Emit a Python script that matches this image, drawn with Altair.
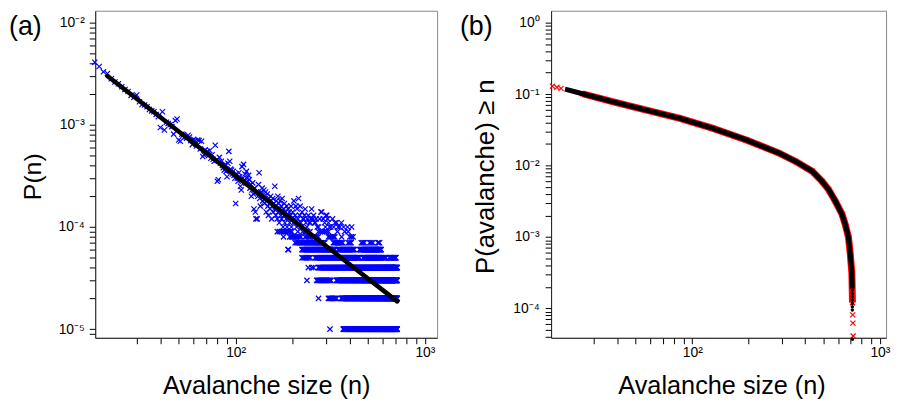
import altair as alt
import pandas as pd

FONT = "Liberation Sans"
XPATH = "M-1,-1L1,1M-1,1L1,-1"
SAMPLES = 100000

# ---------------- panel (a): P(n), counts per 100000 avalanches ----------------
pmf_first_n = 18  # counts below are for n = 18, 19, ..., 200
pmf_counts = [
    410, 372, 330, 318, 282, 262, 252, 236, 222, 212,
    194, 186, 196, 168, 158, 156, 150, 141, 137, 134,
    126, 120, 94, 134, 89, 106, 103, 100, 96, 81,
    110, 114, 71, 69, 81, 80, 76, 74, 79, 76,
    70, 64, 72, 70, 62, 71, 70, 58, 69, 49,
    51, 57, 52, 55, 50, 56, 47, 51, 46, 44,
    63, 45, 28, 29, 48, 42, 44, 40, 38, 36,
    41, 35, 31, 42, 55, 44, 37, 36, 33, 35,
    32, 30, 17, 33, 30, 28, 34, 31, 25, 23,
    39, 30, 41, 29, 33, 27, 35, 30, 28, 32,
    29, 24, 26, 20, 23, 27, 21, 15, 24, 14,
    12, 22, 12, 20, 26, 34, 19, 16, 22, 21,
    24, 18, 20, 23, 17, 19, 22, 14, 18, 21,
    16, 13, 19, 17, 15, 20, 18, 12, 16, 19,
    14, 17, 15, 25, 16, 13, 18, 15, 12, 20,
    14, 17, 11, 15, 18, 13, 16, 12, 19, 14,
    10, 15, 13, 17, 11, 9, 14, 12, 16, 10,
    13, 15, 6, 12, 14, 11, 9, 13, 16, 10,
    12, 8, 14,
]
# isolated sizes above 200 with counts of 10 or more
high_n = [202, 203, 205, 206, 208, 210, 211, 213, 215, 216, 218, 219, 221, 223, 224,
          227, 229, 231, 233, 235, 238, 240, 242, 245, 248, 250, 252, 256, 258, 261,
          264, 266, 270, 274, 278, 282, 285, 290, 295, 298, 300, 303, 306, 309, 313,
          318, 325, 330, 335, 341, 348, 355, 362, 372, 390, 410]
high_counts = [11, 18, 12, 13, 16, 10, 15, 12, 19, 11, 13, 16, 11, 10, 14,
               12, 12, 13, 15, 11, 10, 12, 13, 11, 11, 12, 15, 12, 13, 11,
               11, 12, 10, 10, 12, 14, 14, 12, 11, 10, 13, 13, 12, 11, 10,
               10, 12, 10, 11, 11, 10, 10, 11, 10, 10, 10]
# quantised bands at large n: (count, first n, last n, spacing of marked sizes)
bands = [
    (9, 166, 198, 4), (9, 213, 213, 1), (9, 226, 248, 7), (9, 274, 309, 7),
    (9, 345, 345, 1), (9, 377, 377, 1), (9, 393, 393, 1),
    (8, 179, 179, 1), (8, 193, 221, 4), (8, 233, 248, 5), (8, 258, 274, 5),
    (8, 309, 335, 5), (8, 363, 363, 1), (8, 401, 417, 8),
    (7, 206, 297, 3), (7, 328, 370, 4), (7, 393, 409, 5), (7, 461, 480, 6),
    (7, 510, 531, 7), (7, 564, 576, 6),
    (6, 189, 189, 1), (6, 224, 335, 2), (6, 348, 425, 3), (6, 452, 587, 3),
    (5, 224, 248, 3), (5, 263, 452, 2), (5, 471, 576, 2), (5, 587, 624, 3),
    (5, 649, 704, 3),
    (4, 242, 242, 1), (4, 252, 258, 6), (4, 274, 714, 2),
    (3, 238, 238, 1), (3, 268, 321, 3), (3, 341, 714, 2),
    (2, 274, 274, 1), (2, 309, 341, 4), (2, 362, 714, 2),
    (1, 315, 315, 1), (1, 370, 714, 2),
]
# power-law fit (straight on log-log axes), its two end points
fit_n = [21, 714]
fit_p = [3.0e-3, 1.87e-5]

# ---------------- panel (b): P(avalanche >= n) ----------------
ccdf_n = [18, 19, 20, 26, 38, 57, 86, 129, 194, 290, 356, 436, 492, 533, 578,
          628, 653, 680, 695, 709, 714]
ccdf_p = [0.129, 0.1244, 0.1202, 0.101, 0.0776, 0.0595, 0.0456, 0.0331, 0.0228,
          0.0149, 0.0114, 0.0083, 0.0060, 0.0046, 0.00318, 0.00208, 0.00151,
          0.00099, 0.00058, 0.000306, 0.000120]
ccdf_tail_n = [716, 718, 720]
ccdf_tail_p = [8.1e-5, 6.2e-5, 4.1e-5]
model_n = [21, 26, 38, 57, 86, 129, 194, 290, 356, 436, 492, 533, 578, 628, 653,
           680, 695, 709, 712]
model_p = [0.117, 0.101, 0.0776, 0.0595, 0.0456, 0.0331, 0.0228, 0.0149, 0.0114,
           0.0083, 0.0060, 0.0046, 0.00318, 0.00208, 0.00151, 0.00099, 0.00058,
           0.000306, 0.00019]
model_dot_n = [713, 713, 713, 713, 713, 713, 713, 714]
model_dot_p = [1.8e-4, 1.61e-4, 1.45e-4, 1.30e-4, 1.17e-4, 1.05e-4, 9.5e-5, 3.7e-5]

# ---------------- axes ----------------
x_domain_a = [18.1, 1160]
x_domain_b = [17.7, 1078]
y_domain_a = [8.23e-6, 0.01307]
y_domain_b = [3.87e-5, 1.467]
x_tick_values = [30, 40, 50, 60, 70, 80, 90, 100, 200, 300, 400, 500, 600, 700, 800, 900, 1000]
x_decades = [2, 3]
y_decades_a = [-5, -4, -3, -2]
y_decades_b = [-4, -3, -2, -1, 0]

W_A, W_B, H = 345, 338, 330

SUP = {"0": "⁰", "1": "¹", "2": "²", "3": "³", "4": "⁴", "5": "⁵",
       "6": "⁶", "7": "⁷", "8": "⁸", "9": "⁹", "-": "⁻"}


def decade_expr(decades):
    parts = []
    for e in decades:
        v = 10.0 ** e
        txt = "10" + "".join(SUP[c] for c in str(e))
        parts.append(f"(datum.value > {v * 0.999!r} && datum.value < {v * 1.001!r}) ? '{txt}' : ")
    return "".join(parts) + "''"


def minor_ticks(lo, hi):
    out = []
    for e in range(-7, 2):
        for k in range(1, 10):
            v = k * 10.0 ** e
            if lo <= v <= hi:
                out.append(v)
    return out


common = dict(tickSize=6, tickColor="black", tickWidth=1, domainColor="#222",
              labelFont=FONT, labelFontSize=14, labelColor="black",
              labelOverlap=False, labelFlush=False, grid=False,
              titleFont=FONT, titleFontWeight="normal", titleColor="black")

x_axis_a = alt.Axis(values=x_tick_values, labelExpr=decade_expr(x_decades),
                    title="Avalanche size (n)", labelPadding=2, titleFontSize=25.5,
                    titleX=172.5, titleY=56, titleBaseline="alphabetic", titleAlign="center",
                    **common)
x_axis_b = alt.Axis(values=x_tick_values, labelExpr=decade_expr(x_decades),
                    title="Avalanche size (n)", labelPadding=2, titleFontSize=25.5,
                    titleX=172, titleY=56, titleBaseline="alphabetic", titleAlign="center",
                    **common)
y_axis_a = alt.Axis(values=minor_ticks(*y_domain_a), labelExpr=decade_expr(y_decades_a),
                    title="P(n)", labelPadding=5, titleFontSize=25, titleAngle=270,
                    titleX=-55, titleY=167, titleBaseline="alphabetic", titleAlign="center",
                    **common)
y_axis_b = alt.Axis(values=minor_ticks(*y_domain_b), labelExpr=decade_expr(y_decades_b),
                    title="P(avalanche) ≥ n", labelPadding=6, titleFontSize=26, titleAngle=270,
                    titleX=-58, titleY=167, titleBaseline="alphabetic", titleAlign="center",
                    **common)

xsa = alt.Scale(type="log", domain=x_domain_a, nice=False)
xsb = alt.Scale(type="log", domain=x_domain_b, nice=False)
ysa = alt.Scale(type="log", domain=y_domain_a, nice=False)
ysb = alt.Scale(type="log", domain=y_domain_b, nice=False)

# ---------------- data frames ----------------
rows_a = [{"n": pmf_first_n + i, "p": c / SAMPLES} for i, c in enumerate(pmf_counts)]
rows_a += [{"n": n, "p": c / SAMPLES} for n, c in zip(high_n, high_counts)]
for level, first, last, step in bands:
    rows_a += [{"n": n, "p": level / SAMPLES} for n in range(first, last + 1, step)]
df_a = pd.DataFrame(rows_a)
df_fit = pd.DataFrame({"n": fit_n, "p": fit_p})

df_ccdf = pd.DataFrame({"n": ccdf_n, "p": ccdf_p})
df_ccdf_pts = pd.DataFrame({"n": ccdf_n + ccdf_tail_n, "p": ccdf_p + ccdf_tail_p})
df_model = pd.DataFrame({"n": model_n, "p": model_p})
df_model_dots = pd.DataFrame({"n": model_dot_n, "p": model_dot_p})


def enc_a(ch):
    return ch.encode(x=alt.X("n:Q", scale=xsa, axis=x_axis_a), y=alt.Y("p:Q", scale=ysa, axis=y_axis_a))


def enc_b(ch):
    return ch.encode(x=alt.X("n:Q", scale=xsb, axis=x_axis_b), y=alt.Y("p:Q", scale=ysb, axis=y_axis_b))


scatter_a = enc_a(alt.Chart(df_a).mark_point(shape=XPATH, filled=False, size=28, strokeWidth=1.2,
                                             color="#0000ff", opacity=1))
fit_a = enc_a(alt.Chart(df_fit).mark_line(color="black", strokeWidth=4.5, strokeCap="round"))
label_a = alt.Chart(pd.DataFrame({"t": ["(a)"]})).mark_text(
    align="left", baseline="alphabetic", fontSize=27, font=FONT, color="black"
).encode(text="t:N", x=alt.value(-87), y=alt.value(24))

left = alt.layer(scatter_a, fit_a, label_a).properties(width=W_A, height=H)

red_line = enc_b(alt.Chart(df_ccdf).transform_filter("datum.n >= 21").mark_line(color="#ff0000", strokeWidth=7))
red_pts = enc_b(alt.Chart(df_ccdf_pts).mark_point(shape=XPATH, filled=False, size=26, strokeWidth=1.2,
                                                  color="#ff0000", opacity=1))
black_line = enc_b(alt.Chart(df_model).mark_line(color="black", strokeWidth=5))
black_dots = enc_b(alt.Chart(df_model_dots).mark_circle(size=12, color="black", opacity=1))
label_b = alt.Chart(pd.DataFrame({"t": ["(b)"]})).mark_text(
    align="left", baseline="alphabetic", fontSize=27, font=FONT, color="black"
).encode(text="t:N", x=alt.value(-92), y=alt.value(24))

right = alt.layer(red_line, red_pts, black_line, black_dots, label_b).properties(width=W_B, height=H)

chart = (
    alt.hconcat(left, right, spacing=21)
    .properties(padding=0, background="white")
    .configure_view(stroke="#888", strokeWidth=1)
)

chart.save("out.html", embed_options={"renderer": "svg", "actions": False})
